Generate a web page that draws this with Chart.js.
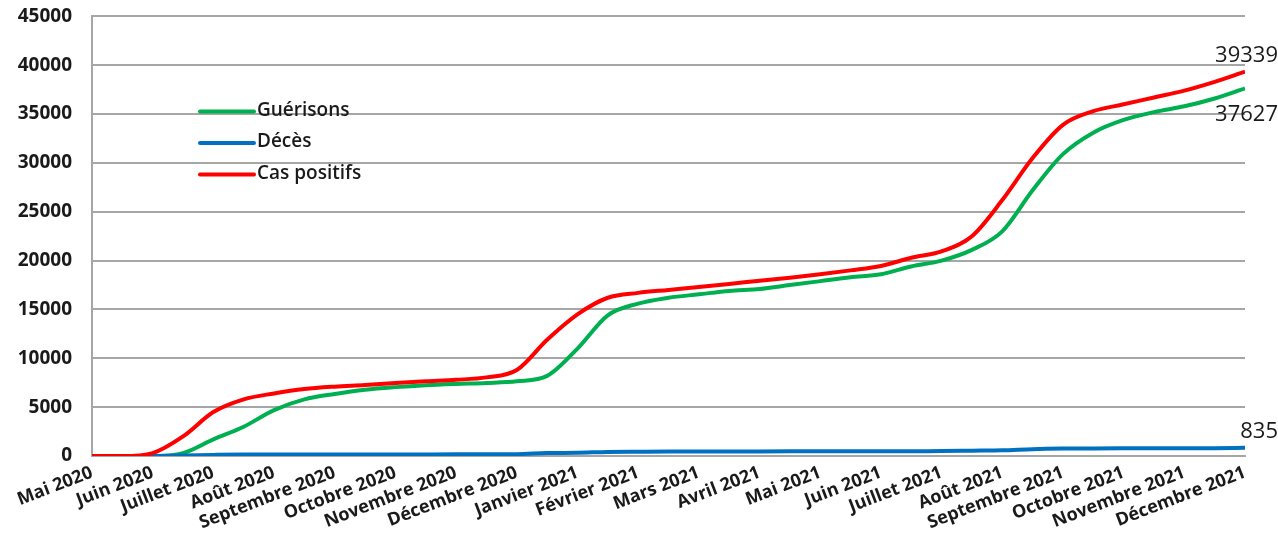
<!DOCTYPE html>
<html>
<head>
<meta charset="utf-8">
<script src="https://cdn.jsdelivr.net/npm/chart.js@4"></script>
<style>
  html, body { margin: 0; padding: 0; background: #fff; }
  #wrap { width: 1278px; height: 549px; }
</style>
</head>
<body>
<div id="wrap"><canvas id="covidChart" width="1278" height="549"></canvas></div>
<script>
// mois affichés sur l'axe (un point tous les demi-mois)
const months = ["Mai 2020", "Juin 2020", "Juillet 2020", "Août 2020", "Septembre 2020", "Octobre 2020",
    "Novembre 2020", "Décembre 2020", "Janvier 2021", "Février 2021", "Mars 2021", "Avril 2021",
    "Mai 2021", "Juin 2021", "Juillet 2021", "Août 2021", "Septembre 2021", "Octobre 2021",
    "Novembre 2021", "Décembre 2021"];

const casPositifs = [0, 0, 300, 2000, 4500, 5800, 6400, 6850, 7100, 7270, 7480, 7650, 7800, 8050,
    8800, 11900, 14500, 16200, 16700, 17000, 17300, 17600, 17950, 18250, 18600, 19000, 19450, 20300,
    20950, 22500, 26200, 30500, 33900, 35300, 36000, 36700, 37400, 38300, 39339];

const guerisons = [0, 0, 0, 300, 1700, 3000, 4700, 5800, 6350, 6780, 7050, 7250, 7380, 7480,
    7650, 8200, 11000, 14400, 15600, 16200, 16550, 16900, 17100, 17500, 17900, 18300, 18600, 19400,
    20000, 21100, 23000, 27200, 30900, 33100, 34400, 35200, 35800, 36600, 37627];

const deces = [0, 0, 10, 50, 110, 150, 155, 157, 158, 160, 162, 165, 170, 175,
    190, 300, 330, 420, 440, 455, 460, 465, 470, 475, 480, 485, 490, 495,
    500, 540, 580, 700, 760, 780, 787, 790, 795, 800, 835];

const toPoints = arr => arr.map((v, i) => ({ x: i / 2, y: v }));

// légende et valeurs finales dessinées sur le canvas
const extras = {
    id: 'extras',
    afterDatasetsDraw(chart) {
        const { ctx, chartArea, scales } = chart;
        ctx.save();
        // légende dans la zone du graphique
        const items = [[1, 'Guérisons'], [2, 'Décès'], [0, 'Cas positifs']];
        items.forEach(([idx, label], k) => {
            const ds = chart.data.datasets[idx];
            const y = chartArea.top + 95 + k * 31.5;
            const x = chartArea.left + 108;
            ctx.strokeStyle = ds.borderColor;
            ctx.lineWidth = 4;
            ctx.lineCap = 'round';
            ctx.beginPath();
            ctx.moveTo(x, y);
            ctx.lineTo(x + 54, y);
            ctx.stroke();
            ctx.fillStyle = '#1a1a1a';
            ctx.font = '600 19px "Open Sans"';
            ctx.textBaseline = 'middle';
            ctx.textAlign = 'left';
            ctx.fillText(label, x + 57, y - 1);
        });
        // valeurs à la fin des courbes
        const last = months.length - 1;
        const xEnd = scales.x.getPixelForValue(last) + 33;
        ctx.font = '22px "Open Sans"';
        ctx.textAlign = 'right';
        ctx.fillStyle = '#1a1a1a';
        ctx.fillText(casPositifs[casPositifs.length - 1], xEnd, scales.y.getPixelForValue(casPositifs[casPositifs.length - 1]) - 16);
        ctx.fillText(guerisons[guerisons.length - 1], xEnd, scales.y.getPixelForValue(guerisons[guerisons.length - 1]) + 26);
        ctx.fillText(deces[deces.length - 1], xEnd, scales.y.getPixelForValue(deces[deces.length - 1]) - 16);
        ctx.restore();
    }
};

const ctx = document.getElementById('covidChart').getContext('2d');
const covidChart = new Chart(ctx, {
    type: 'line',
    data: {
        datasets: [{
            label: 'Cas positifs',
            data: toPoints(casPositifs),
            borderColor: '#ff0000',
            order: 0
        }, {
            label: 'Guérisons',
            data: toPoints(guerisons),
            borderColor: '#00b050',
            order: 2
        }, {
            label: 'Décès',
            data: toPoints(deces),
            borderColor: '#0070c0',
            order: 1
        }]
    },
    options: {
        responsive: false,
        animation: false,
        layout: { padding: { top: 0, right: 33, left: 0, bottom: 0 } },
        elements: {
            line: { borderWidth: 4, cubicInterpolationMode: 'monotone' },
            point: { radius: 0 }
        },
        plugins: {
            legend: { display: false },
            tooltip: { enabled: false }
        },
        scales: {
            x: {
                type: 'linear',
                min: 0,
                max: months.length - 1,
                grid: { display: false, drawTicks: false },
                border: { color: '#a6a6a6', width: 2 },
                ticks: {
                    stepSize: 1,
                    autoSkip: false,
                    minRotation: 21,
                    maxRotation: 21,
                    padding: 6,
                    color: '#1a1a1a',
                    font: { family: 'Open Sans', size: 18, weight: 'bold' },
                    callback: v => months[v]
                },
                afterFit: s => { s.height = 93; }
            },
            y: {
                min: 0,
                max: 45000,
                grid: { color: '#a6a6a6', lineWidth: 2, drawTicks: true, tickLength: 15, tickColor: 'rgba(0,0,0,0)' },
                border: { color: '#a6a6a6', width: 2 },
                ticks: {
                    stepSize: 5000,
                    padding: 5,
                    color: '#1a1a1a',
                    font: { family: 'Open Sans', size: 19, weight: 'bold' },
                    callback: v => String(v)
                },
                afterFit: s => { s.width = 92; }
            }
        }
    },
    plugins: [extras]
});
</script>
</body>
</html>
